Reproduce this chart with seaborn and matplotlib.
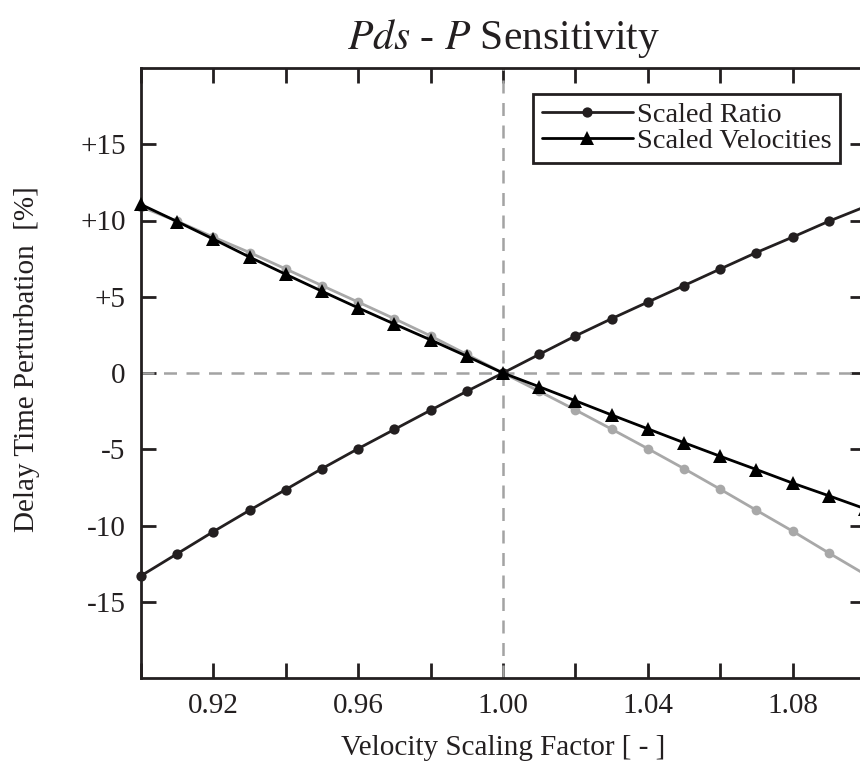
import numpy as np
import pandas as pd
import matplotlib
matplotlib.use("Agg")
import matplotlib.pyplot as plt
from matplotlib.ticker import FixedLocator, FuncFormatter
import seaborn as sns

# ---- data ----
scale = [0.90, 0.91, 0.92, 0.93, 0.94, 0.95, 0.96, 0.97, 0.98, 0.99, 1.00,
         1.01, 1.02, 1.03, 1.04, 1.05, 1.06, 1.07, 1.08, 1.09, 1.10]
scaled_ratio = [-13.3, -11.85, -10.4, -9.0, -7.64, -6.27, -4.96, -3.7, -2.44, -1.2, 0.0,
                1.22, 2.43, 3.56, 4.65, 5.73, 6.82, 7.9, 8.91, 9.95, 10.9]
mirrored_ratio = [10.9, 9.95, 8.91, 7.9, 6.82, 5.73, 4.65, 3.56, 2.43, 1.22, 0.0,
                  -1.2, -2.42, -3.68, -4.96, -6.27, -7.62, -9.0, -10.37, -11.8, -13.2]
scaled_vel = [11.05, 9.93, 8.78, 7.6, 6.47, 5.36, 4.27, 3.21, 2.17, 1.1, 0.0,
              -0.9, -1.82, -2.75, -3.66, -4.57, -5.46, -6.33, -7.22, -8.05, -8.9]

xtick_vals = [0.90, 0.92, 0.94, 0.96, 0.98, 1.00, 1.02, 1.04, 1.06, 1.08, 1.10]
xtick_labeled = [0.92, 0.96, 1.00, 1.04, 1.08]
ytick_vals = [-15, -10, -5, 0, 5, 10, 15]
ytick_labels = ["-15", "-10", "-5", "0", "+5", "+10", "+15"]

df = pd.DataFrame({"scale": scale, "ratio": scaled_ratio,
                   "mirror": mirrored_ratio, "vel": scaled_vel})

sns.set_style("ticks")
plt.rcParams["font.family"] = ["Liberation Serif", "DejaVu Serif"]
plt.rcParams["mathtext.fontset"] = "stix"

dark = "#231f20"
fig = plt.figure(figsize=(8.60, 7.61), dpi=100)
ax = fig.add_axes([141 / 860, 1 - 678 / 761, 724 / 860, 610 / 761])

# reference lines
ax.axhline(0, color="#a3a3a3", lw=1.8, dashes=(5.2, 3.8), zorder=1)
ax.axvline(1.0, color="#a3a3a3", lw=1.8, dashes=(5.2, 3.8), zorder=1)

sns.lineplot(data=df, x="scale", y="mirror", ax=ax, color="#a8a8a8",
             marker="o", markersize=7, markeredgewidth=0, lw=2.0,
             legend=False, zorder=2, clip_on=False)
sns.lineplot(data=df, x="scale", y="ratio", ax=ax, color=dark,
             marker="o", markersize=7.4, markeredgewidth=0, lw=2.0,
             label="Scaled Ratio", zorder=3, clip_on=False)
sns.lineplot(data=df, x="scale", y="vel", ax=ax, color="black",
             marker="^", markersize=10.5, markeredgewidth=0, lw=2.0,
             label="Scaled Velocities", zorder=4, clip_on=False)

ax.set_xlim(0.90, 1.10)
ax.set_ylim(-20, 20)
ax.xaxis.set_major_locator(FixedLocator(xtick_vals))
ax.xaxis.set_major_formatter(FuncFormatter(
    lambda v, p: f"{v:.2f}" if any(abs(v - t) < 1e-6 for t in xtick_labeled) else ""))
ax.set_yticks(ytick_vals)
ax.set_yticklabels(ytick_labels)

ax.tick_params(direction="in", length=11, width=2.0, colors=dark,
               top=True, right=True, labelsize=21, pad=11, labelcolor=dark)
for s in ax.spines.values():
    s.set_linewidth(2.0)
    s.set_color(dark)

ax.set_xlabel("Velocity Scaling Factor [ - ]", fontsize=21, color=dark, labelpad=11)
ax.set_ylabel("Delay Time Perturbation  [%]", fontsize=21, color=dark)
ax.yaxis.set_label_coords(-0.14, 0.523)
ax.set_title(r"$Pds$ - $P$ Sensitivity", fontsize=30, color=dark, pad=14)

leg = ax.legend(loc="upper right", bbox_to_anchor=(0.9655, 0.958), fontsize=20.5,
                frameon=True, fancybox=False, edgecolor=dark, framealpha=1,
                handlelength=3.2, handletextpad=0.14, labelspacing=0.0,
                borderpad=0.3, borderaxespad=0.0)
leg.get_frame().set_linewidth(2.0)
for t in leg.get_texts():
    t.set_color(dark)

fig.savefig("out.png", dpi=100)
